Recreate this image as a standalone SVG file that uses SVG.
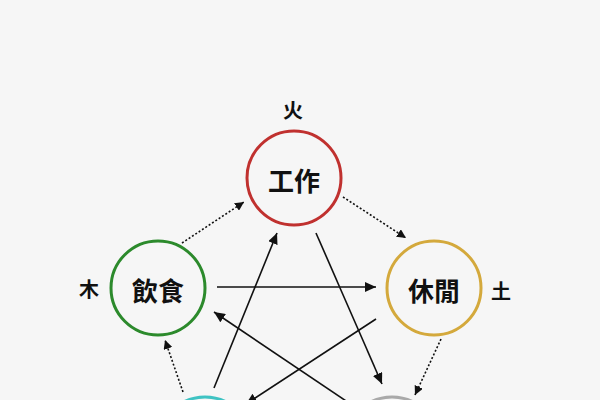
<svg xmlns="http://www.w3.org/2000/svg" width="600" height="400" viewBox="0 0 600 400">
<style>
.node{fill:#f6f6f6;stroke-width:3}
.lbl{font-family:"Noto Sans CJK TC","Noto Sans CJK SC",sans-serif;font-size:26px;font-weight:700;fill:#111;text-anchor:middle;dominant-baseline:central}
.el{font-family:"Noto Sans CJK TC","Noto Sans CJK SC",sans-serif;font-size:20px;font-weight:700;fill:#111;text-anchor:middle;dominant-baseline:central}
.solid{fill:none;stroke:#111;stroke-width:1.6;marker-end:url(#ah)}
.dot{fill:none;stroke:#111;stroke-width:1.6;stroke-dasharray:2 2;marker-end:url(#ahs)}
</style>
<defs>
<marker id="ah" markerUnits="userSpaceOnUse" markerWidth="12" markerHeight="10" refX="11" refY="5" orient="auto">
<path d="M0,0 L11,5 L0,10 Z" fill="#111"/>
</marker>
<marker id="ahs" markerUnits="userSpaceOnUse" markerWidth="10" markerHeight="9" refX="9" refY="4.5" orient="auto">
<path d="M0,0 L9,4.5 L0,9 Z" fill="#111"/>
</marker>
</defs>
<rect width="600" height="400" fill="#f6f6f6"/>
<g id="connectors">
<path class="dot" d="M182,243 L244,202"/>
<path class="dot" d="M343,197 L406,238"/>
<path class="dot" d="M441,339 L415,395"/>
<path class="dot" d="M183,392 L165,340"/>
<path class="solid" d="M217,287 L376,287"/>
<path class="solid" d="M214,388 L277,233"/>
<path class="solid" d="M316,233 L382,384"/>
<path class="solid" d="M376,319 L246,404"/>
<path class="solid" d="M358,409 L214,312"/>
</g>
<g id="fire">
<circle class="node" cx="294" cy="178" r="47" stroke="#c0312f"/>
<text class="lbl" x="294" y="179">工作</text>
<text class="el" x="293" y="109">火</text>
</g>
<g id="wood">
<circle class="node" cx="158" cy="288" r="47" stroke="#2c8a2c"/>
<text class="lbl" x="158" y="289">飲食</text>
<text class="el" x="89" y="288">木</text>
</g>
<g id="earth">
<circle class="node" cx="434" cy="288" r="47" stroke="#d4a93c"/>
<text class="lbl" x="434" y="289">休閒</text>
<text class="el" x="501" y="290">土</text>
</g>
<g id="water">
<circle class="node" cx="205" cy="444" r="47" stroke="#3fc3c3"/>
</g>
<g id="metal">
<circle class="node" cx="392" cy="444" r="47" stroke="#a9a9a9"/>
</g>
</svg>
